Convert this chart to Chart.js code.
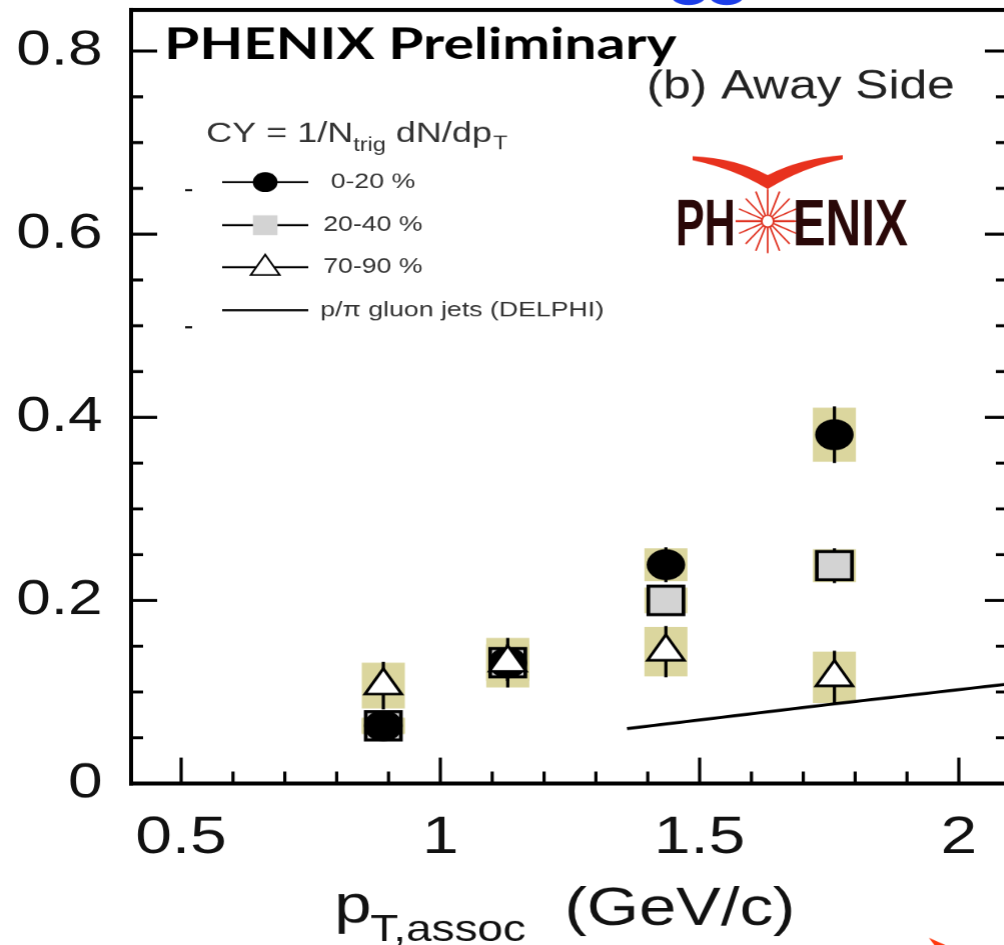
<!DOCTYPE html>
<html>
<head>
<meta charset="utf-8">
<script src="https://cdn.jsdelivr.net/npm/chart.js@4.4.1/dist/chart.umd.min.js"></script>
<style>
  html, body { margin: 0; padding: 0; background: #fff; overflow: hidden; width: 1004px; height: 945px; }
  #wrap { position: absolute; left: 0; top: 0; transform: scaleX(1.24); transform-origin: 0 0; }
</style>
</head>
<body>
<div id="wrap"><canvas id="c" width="816" height="945"></canvas></div>
<script>
// picture is stretched sideways, so draw narrow and scale with css
var S = 1.24;
function X(v) { return v / S; }

// data
var ptX = [0.89, 1.13, 1.435, 1.76];

var cy0_20 = [0.063, 0.132, 0.239, 0.381];
var stat0_20 = [0.01, 0.02, 0.019, 0.031];
var sys0_20 = [0.009, 0.02, 0.018, 0.0295];

var cy20_40 = [0.063, 0.132, 0.2, 0.238];
var stat20_40 = [0.01, 0.02, 0.015, 0.019];
var sys20_40 = [0.008, 0.02, 0.014, 0.018];

var cy70_90 = [0.107, 0.132, 0.144, 0.116];
var stat70_90 = [0.026, 0.027, 0.028, 0.029];
var sys70_90 = [0.025, 0.027, 0.027, 0.028];

var delphiX = [1.36, 1.76, 2.1];
var delphiY = [0.060, 0.087, 0.109];

var xTicks = [0.5, 1, 1.5, 2];
var yTicks = [0, 0.2, 0.4, 0.6, 0.8];

var labels = [' 0-20 %', '20-40 %', '70-90 %', 'p/\u03c0 gluon jets (DELPHI)'];

function pts(xs, ys) {
  return xs.map(function (x, i) { return { x: x, y: ys[i] }; });
}

var series = [
  { y: cy70_90, stat: stat70_90, sys: sys70_90 },
  { y: cy20_40, stat: stat20_40, sys: sys20_40 },
  { y: cy0_20, stat: stat0_20, sys: sys0_20 }
];

var BOX_HW = X(21.5);
var FONT = '"Liberation Sans", Arial, sans-serif';

// systematic boxes + stat bars, under the markers
var errPlugin = {
  id: 'errs',
  beforeDatasetsDraw: function (chart) {
    var ctx = chart.ctx, xs = chart.scales.x, ys = chart.scales.y;
    ctx.save();
    ctx.fillStyle = '#dbd69e';
    series.forEach(function (s) {
      ptX.forEach(function (v, i) {
        var px = xs.getPixelForValue(v);
        var t = ys.getPixelForValue(s.y[i] + s.sys[i]);
        var b = ys.getPixelForValue(s.y[i] - s.sys[i]);
        ctx.fillRect(px - BOX_HW, t, 2 * BOX_HW, b - t);
      });
    });
    ctx.fillStyle = '#000';
    series.forEach(function (s) {
      ptX.forEach(function (v, i) {
        var px = xs.getPixelForValue(v);
        var t = ys.getPixelForValue(s.y[i] + s.stat[i]);
        var b = ys.getPixelForValue(s.y[i] - s.stat[i]);
        ctx.fillRect(px - X(1.6), t, X(3.2), b - t);
      });
    });
    ctx.restore();
  }
};

// frame, inward ticks, texts, legend, logo
var decoPlugin = {
  id: 'deco',
  afterDraw: function (chart) {
    var ctx = chart.ctx, xs = chart.scales.x, ys = chart.scales.y;
    var a = chart.chartArea;
    var k, v, p;
    ctx.save();
    ctx.fillStyle = '#000';
    ctx.fillRect(a.left - X(2), a.top - 2, X(4), a.bottom - a.top + 4);
    ctx.fillRect(a.right - X(2), a.top - 2, X(4), a.bottom - a.top + 4);
    ctx.fillRect(a.left - X(2), a.top - 2, a.right - a.left + X(4), 4);
    ctx.fillRect(a.left - X(2), a.bottom - 2, a.right - a.left + X(4), 4);

    for (k = 5; k <= 20; k++) {
      v = k / 10;
      p = xs.getPixelForValue(v);
      var len = (k % 5 === 0) ? 26 : 12;
      ctx.fillRect(p - X(1.6), a.bottom - len, X(3.2), len);
    }
    for (k = 1; k <= 16; k++) {
      v = k * 0.05;
      p = ys.getPixelForValue(v);
      var maj = (k % 4 === 0);
      ctx.fillRect(a.left, p - 1.5, X(maj ? 26 : 12), 3);
      ctx.fillRect(a.right - X(maj ? 23 : 12), p - 1.5, X(maj ? 23 : 12), 3);
    }

    // titles
    ctx.textBaseline = 'alphabetic';
    ctx.textAlign = 'left';
    var t = 'PHENIX Preliminary';
    ctx.font = 'bold 43px Lato, "Open Sans", sans-serif';
    var m = ctx.measureText(t).width;
    ctx.save();
    ctx.translate(X(164), 59);
    ctx.scale(X(512) / m, 1);
    ctx.fillStyle = '#000';
    ctx.fillText(t, 0, 0);
    ctx.restore();

    ctx.fillStyle = '#222';
    ctx.font = '40px ' + FONT;
    ctx.fillText('(b) Away Side', X(646), 98);

    // axis title
    ctx.fillStyle = '#111';
    ctx.font = '54px ' + FONT;
    var tx = X(334);
    ctx.fillText('p', tx, 922);
    tx += ctx.measureText('p').width;
    ctx.font = '37px ' + FONT;
    ctx.fillText('T,assoc', tx - 1, 940);
    ctx.font = '54px ' + FONT;
    ctx.fillText('(GeV/c)', X(564), 924);

    // legend
    ctx.fillStyle = '#333';
    var lx = X(206), ly = 142;
    ctx.font = '29px ' + FONT;
    ctx.fillText('CY = 1/N', lx, ly); lx += ctx.measureText('CY = 1/N').width;
    ctx.font = '19px ' + FONT;
    ctx.fillText('trig', lx, ly + 9); lx += ctx.measureText('trig').width;
    ctx.font = '29px ' + FONT;
    ctx.fillText(' dN/dp', lx, ly); lx += ctx.measureText(' dN/dp').width;
    ctx.font = '19px ' + FONT;
    ctx.fillText('T', lx + 1, ly + 7);

    var rows = [182, 225, 267, 310];
    var order = [2, 1, 3, 0]; // dataset index for each legend row
    ctx.textBaseline = 'middle';
    ctx.font = '21.5px ' + FONT;
    rows.forEach(function (ry, r) {
      ctx.fillStyle = '#000';
      ctx.fillRect(X(222), ry - 1, X(86), 2);
      var ds = chart.data.datasets[order[r]];
      if (r === 0) {
        ctx.fillStyle = '#000';
        Chart.helpers.drawPoint(ctx, { pointStyle: 'circle', radius: 10, borderWidth: 0 }, X(265), ry);
      } else if (r === 1) {
        ctx.fillStyle = ds.backgroundColor;
        ctx.strokeStyle = ds.backgroundColor;
        Chart.helpers.drawPoint(ctx, { pointStyle: 'rect', radius: 14, borderWidth: 0 }, X(265), ry);
      } else if (r === 2) {
        ctx.fillStyle = '#fff';
        ctx.strokeStyle = '#000';
        ctx.lineWidth = 1.6;
        Chart.helpers.drawPoint(ctx, { pointStyle: 'triangle', radius: 13.5, borderWidth: 1.6 }, X(265), ry + 1);
      }
      ctx.fillStyle = '#333';
      ctx.fillText(labels[r], X(r === 3 ? 320 : 323), ry);
    });
    ctx.fillStyle = '#000';
    ctx.fillRect(X(185), 189, X(7), 2);
    ctx.fillRect(X(185), 326, X(7), 2);

    // logo
    ctx.fillStyle = '#e8321e';
    ctx.beginPath();
    ctx.moveTo(X(692), 156);
    ctx.quadraticCurveTo(X(735), 158, X(767), 175);
    ctx.quadraticCurveTo(X(800), 158, X(842), 155);
    ctx.lineTo(X(842), 159);
    ctx.quadraticCurveTo(X(800), 168, X(767), 189);
    ctx.quadraticCurveTo(X(735), 169, X(692), 160);
    ctx.closePath();
    ctx.fill();

    var cx = X(767), cyc = 221;
    ctx.strokeStyle = '#e03322';
    ctx.lineWidth = 1.4;
    for (k = 0; k < 16; k++) {
      var ang = k * Math.PI / 8;
      ctx.beginPath();
      ctx.moveTo(cx + X(6 * Math.cos(ang)), cyc + 6 * Math.sin(ang));
      ctx.lineTo(cx + X(31 * Math.cos(ang)), cyc + 32 * Math.sin(ang));
      ctx.stroke();
    }
    ctx.lineWidth = 2;
    ctx.beginPath();
    ctx.moveTo(X(735), cyc); ctx.lineTo(X(794), cyc);
    ctx.stroke();
    ctx.beginPath();
    ctx.ellipse(cx, cyc, X(6), 6, 0, 0, Math.PI * 2);
    ctx.fillStyle = '#fff';
    ctx.fill();
    ctx.lineWidth = 1.5;
    ctx.stroke();

    ctx.fillStyle = '#2a0808';
    ctx.textBaseline = 'alphabetic';
    ctx.font = 'bold 65px "Liberation Sans Narrow", ' + FONT;
    [['PH', 675, 60], ['ENIX', 792, 115]].forEach(function (w) {
      var mw = ctx.measureText(w[0]).width;
      ctx.save();
      ctx.translate(X(w[1]), 245);
      ctx.scale(X(w[2]) / mw, 1);
      ctx.fillText(w[0], 0, 0);
      ctx.restore();
    });

    // cut-off blue letters at the top and red arrow tip at the bottom
    ctx.fillStyle = '#1c3ee8';
    ctx.beginPath(); ctx.ellipse(X(688), -4, X(17), 9, 0, 0, Math.PI * 2); ctx.fill();
    ctx.beginPath(); ctx.ellipse(X(726), -4, X(17), 9, 0, 0, Math.PI * 2); ctx.fill();
    ctx.fillStyle = '#ff3a10';
    ctx.beginPath();
    ctx.moveTo(X(928), 937); ctx.lineTo(X(946), 945); ctx.lineTo(X(934), 945);
    ctx.closePath(); ctx.fill();
    ctx.restore();
  }
};

new Chart(document.getElementById('c'), {
  type: 'scatter',
  data: {
    datasets: [
      {
        label: labels[3], type: 'line', showLine: true,
        data: pts(delphiX, delphiY),
        borderColor: '#000', borderWidth: 3, pointRadius: 0, fill: false, order: 3
      },
      {
        label: labels[1], data: pts(ptX, cy20_40),
        pointStyle: 'rect', pointRadius: 20, backgroundColor: '#d3d3d3',
        borderColor: '#000', borderWidth: 3, order: 2
      },
      {
        label: labels[0], data: pts(ptX, cy0_20),
        pointStyle: 'circle', pointRadius: 15.5, backgroundColor: '#000',
        borderColor: '#000', borderWidth: 0, order: 1
      },
      {
        label: labels[2], data: pts(ptX, cy70_90),
        pointStyle: 'triangle', pointRadius: 17, backgroundColor: '#fff',
        borderColor: '#000', borderWidth: 2.5, order: 0
      }
    ]
  },
  options: {
    responsive: false,
    animation: false,
    devicePixelRatio: S,
    layout: { autoPadding: false, padding: { top: 10, right: 816 - X(1007), left: 0, bottom: 0 } },
    plugins: { legend: { display: false }, tooltip: { enabled: false } },
    scales: {
      x: {
        type: 'linear', min: 0.4035, max: 2.0946,
        grid: { display: false, drawTicks: false },
        border: { display: false },
        afterBuildTicks: function (s) { s.ticks = xTicks.map(function (v) { return { value: v }; }); },
        afterFit: function (s) { s.height = 945 - 783; s.paddingLeft = 0; s.paddingRight = 0; },
        ticks: {
          padding: 23, color: '#111', maxRotation: 0, autoSkip: false,
          font: { family: FONT, size: 53 },
          callback: function (v) { return String(v); }
        }
      },
      y: {
        type: 'linear', min: 0, max: 0.8448,
        grid: { display: false, drawTicks: false },
        border: { display: false },
        afterBuildTicks: function (s) { s.ticks = yTicks.map(function (v) { return { value: v }; }); },
        afterFit: function (s) { s.width = X(131); s.paddingTop = 0; s.paddingBottom = 0; },
        ticks: {
          padding: 23, color: '#111', autoSkip: false,
          font: { family: FONT, size: 50 },
          callback: function (v) { return v === 0 ? '0' : v.toFixed(1); }
        }
      }
    }
  },
  plugins: [errPlugin, decoPlugin]
});
</script>
</body>
</html>
